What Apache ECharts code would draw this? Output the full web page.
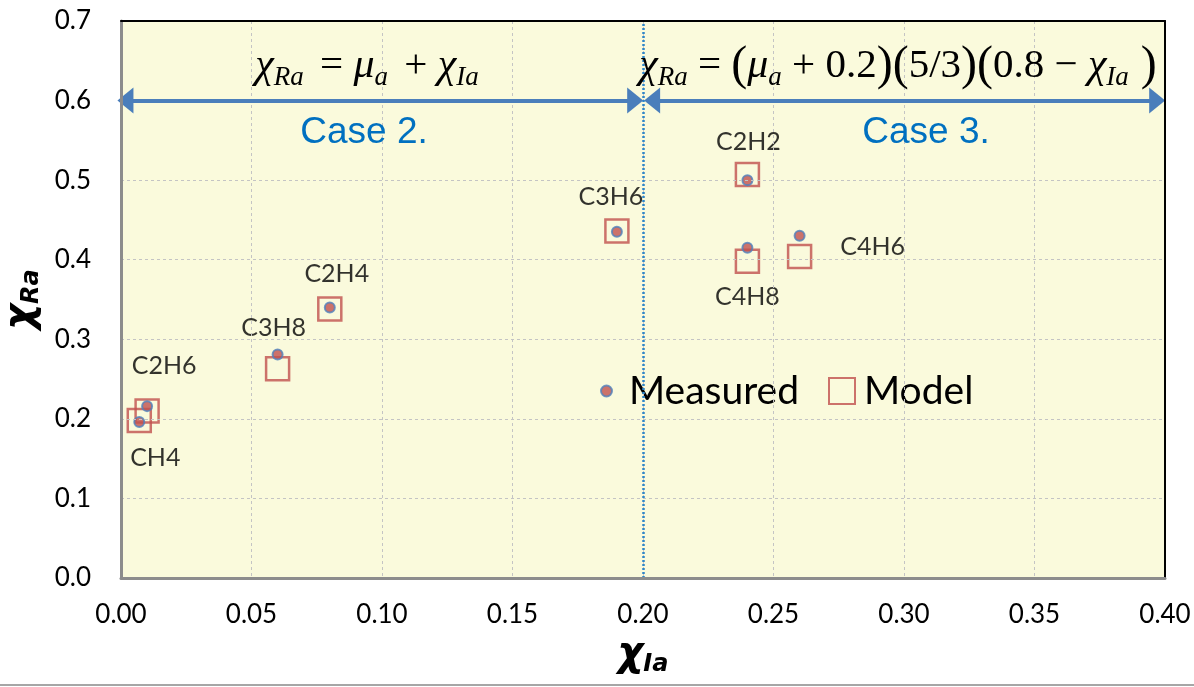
<!DOCTYPE html>
<html><head><meta charset="utf-8">
<script src="https://cdn.jsdelivr.net/npm/echarts@6/dist/echarts.min.js"></script>
<style>html,body{margin:0;padding:0;background:#fff}#c{width:1194px;height:687px}</style>
</head><body><div id="c"></div>
<script>
// ---- data ----
const gases    = ['CH4', 'C2H6', 'C3H8', 'C2H4', 'C3H6', 'C2H2', 'C4H8', 'C4H6'];
const chiIa    = [0.007, 0.010, 0.060, 0.080, 0.190, 0.240, 0.240, 0.260];
const measured = [0.196, 0.216, 0.281, 0.340, 0.435, 0.500, 0.415, 0.430];
const model    = [0.198, 0.210, 0.263, 0.338, 0.436, 0.507, 0.398, 0.404];
const xTickLabels = ['0.00','0.05','0.10','0.15','0.20','0.25','0.30','0.35','0.40'];
const yTickLabels = ['0.0','0.1','0.2','0.3','0.4','0.5','0.6','0.7'];
const caseBoundary = 0.2;   // χIa where Case 2 turns into Case 3
const arrowLevel = 0.6;

// ---- styling / placement (not data) ----
const labelOffsets = {
  CH4:[16,36], C2H6:[17,-40], C3H8:[-4,-26], C2H4:[7,-34],
  C3H6:[-6,-35], C2H2:[1,-38], C4H8:[0,49], C4H6:[73,11]
};
const RED = '#C0504D', BLUE = '#4F81BD';
const TXT = 'Lato';

const chart = echarts.init(document.getElementById('c'), null, {renderer:'canvas'});

const serifRich = {
  g:{fontFamily:'Liberation Serif', fontStyle:'italic', fontSize:42, lineHeight:50, fill:'#000'},
  s:{fontFamily:'Liberation Serif', fontStyle:'italic', fontSize:27, lineHeight:23, verticalAlign:'bottom', fill:'#000'},
  sl:{fontFamily:'Liberation Serif', fontStyle:'italic', fontSize:27, lineHeight:23, verticalAlign:'bottom', fill:'#000', padding:[0,6,0,0]},
  o:{fontFamily:'Liberation Serif', fontSize:41, lineHeight:50, fill:'#000'},
  p:{fontFamily:'Liberation Serif', fontSize:48, lineHeight:50, fill:'#000'}
};
const nameRich = {
  c:{fontFamily:'DejaVu Sans', fontStyle:'oblique', fontWeight:'bold', fontSize:40, lineHeight:44, color:'#000'},
  s:{fontFamily:'DejaVu Sans', fontStyle:'oblique', fontWeight:'bold', fontSize:24, lineHeight:24, verticalAlign:'bottom', color:'#000'}
};
const frameAxis = {
  z:5, axisTick:{show:false}, axisLabel:{show:false}, splitLine:{show:false},
  axisLine:{show:true, onZero:false, lineStyle:{color:'#000', width:2}}
};

const option = {
  animation:false,
  backgroundColor:'#fff',
  grid:{left:121, right:29, top:21, bottom:109, show:true, backgroundColor:'#FAFADC', borderWidth:0,
        outerBoundsMode:'none', containLabel:false},
  xAxis:[{
    type:'value', min:0, max:0.4, interval:0.05, z:5, position:'bottom',
    axisLine:{show:true, onZero:false, lineStyle:{color:'#8C8C8C', width:3}},
    axisTick:{show:false},
    axisLabel:{formatter:(v,i)=>xTickLabels[i], fontFamily:TXT, fontSize:26, color:'#000', margin:24},
    splitLine:{show:true, lineStyle:{color:'#C4C4C4', type:[3,3], width:1}},
    name:'{c|χ}{s|Ia}', nameLocation:'middle', nameGap:55,
    nameTextStyle:{rich:nameRich}
  }, Object.assign({type:'value', min:0, max:0.4, interval:0.05, position:'top'}, frameAxis)],
  yAxis:[{
    type:'value', min:0, max:0.7, interval:0.1, z:5, position:'left',
    axisLine:{show:true, onZero:false, lineStyle:{color:'#8C8C8C', width:3}},
    axisTick:{show:false},
    axisLabel:{formatter:(v,i)=>yTickLabels[i], fontFamily:TXT, fontSize:26, color:'#000', margin:30},
    splitLine:{show:true, lineStyle:{color:'#C4C4C4', type:[3,3], width:1}},
    name:'{c|χ}{s|Ra}', nameLocation:'middle', nameGap:70, nameRotate:90,
    nameTextStyle:{rich:nameRich}
  }, Object.assign({type:'value', min:0, max:0.7, interval:0.1, position:'right'}, frameAxis)],
  legend:[
    {data:['Measured'], left:595, top:366, itemWidth:11, itemHeight:11, icon:'circle',
     textStyle:{fontFamily:TXT, fontSize:39, color:'#000', lineHeight:40, padding:[0,0,0,12]}, selectedMode:false},
    {data:['Model'], left:823, top:366, itemWidth:26, itemHeight:26, icon:'rect',
     textStyle:{fontFamily:TXT, fontSize:39, color:'#000', lineHeight:40, padding:[0,0,0,4]}, selectedMode:false}
  ],
  series:[
    {
      name:'Model', type:'scatter', clip:false, z:3,
      data: gases.map((g,i)=>({name:g, value:[chiIa[i], model[i]]})),
      symbol:'rect', symbolSize:23,
      itemStyle:{color:'rgba(0,0,0,0)', borderColor:RED, borderWidth:2.5},
      emphasis:{disabled:true},
      markLine:{
        silent:true, symbol:'none', label:{show:false},
        lineStyle:{color:'#2E86C8', type:[2,2], width:2.5},
        data:[{xAxis:caseBoundary}]
      }
    },
    {
      name:'Measured', type:'scatter', clip:false, z:4,
      data: gases.map((g,i)=>({name:g, value:[chiIa[i], measured[i]], label:{offset:labelOffsets[g]}})),
      symbol:'circle', symbolSize:10,
      itemStyle:{color:RED, borderColor:BLUE, borderWidth:2},
      emphasis:{disabled:true},
      label:{show:true, position:'inside', formatter:p=>p.name, fontFamily:TXT, fontSize:25, color:'#000'},
      markLine:{
        silent:true, symbol:['triangle','triangle'], symbolSize:[26,16], label:{show:false},
        lineStyle:{color:'#4A7EBB', type:'solid', width:4},
        data:[
          [{coord:[0.0017, arrowLevel]}, {coord:[caseBoundary-0.003, arrowLevel]}],
          [{coord:[caseBoundary+0.0035, arrowLevel]}, {coord:[0.397, arrowLevel]}]
        ]
      }
    }
  ],
  graphic:[
    {type:'line', shape:{x1:0, y1:685, x2:1194, y2:685}, style:{stroke:'#A6A6A6', lineWidth:2}, silent:true},
    {type:'text', x:367, y:66, silent:true, z:10, style:{
      text:'{g|χ}{sl|Ra}{o| = }{g|μ}{sl|a}{o| + }{g|χ}{s|Ia}',
      rich:serifRich, align:'center', verticalAlign:'middle', fill:'#000'}},
    {type:'text', x:898, y:66, silent:true, z:10, style:{
      text:'{g|χ}{s|Ra}{o| = }{p|(}{g|μ}{s|a}{o| + 0.2}{p|)(}{o|5/3}{p|)(}{o|0.8 − }{g|χ}{s|Ia}{p| )}',
      rich:serifRich, align:'center', verticalAlign:'middle', fill:'#000'}},
    {type:'text', x:364, y:133, silent:true, z:10, style:{
      text:'Case 2.', font:'37px "Liberation Sans"', fill:'#0070C0', align:'center', verticalAlign:'middle'}},
    {type:'text', x:926, y:133, silent:true, z:10, style:{
      text:'Case 3.', font:'37px "Liberation Sans"', fill:'#0070C0', align:'center', verticalAlign:'middle'}}
  ]
};
chart.setOption(option);
</script>
</body></html>
